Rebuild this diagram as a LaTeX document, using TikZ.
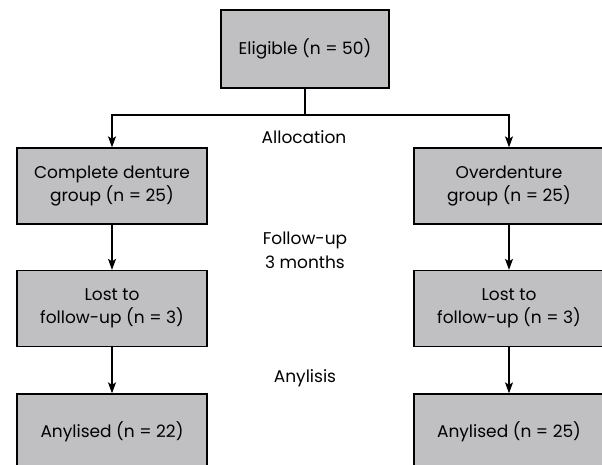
\documentclass[tikz,border=0pt]{standalone}
\usepackage{fontspec}
\setmainfont{Poppins}
\usepackage{tikz}
\usepackage{xcolor}
\usetikzlibrary{arrows.meta}
\definecolor{boxgray}{RGB}{192,192,194}
\tikzset{
    flow_box/.style={rectangle, draw=black, line width=1.3pt, fill=boxgray,
                     minimum width=190pt, minimum height=76pt, inner sep=0pt,
                     align=center, font=\fontsize{17}{23}\selectfont},
    top_box/.style={flow_box, minimum width=168pt, minimum height=78pt},
    stage_text/.style={align=center, font=\fontsize{17}{24}\selectfont},
    flow_arrow/.style={->, line width=1.2pt}
}

\begin{document}
\begin{tikzpicture}[x=1pt, y=1pt, >={Stealth[length=11pt, width=8pt, inset=2.5pt]}]
    \useasboundingbox (0,0) rectangle (602,-465);
    \node[top_box] (eligible) at (305, -49) {Eligible (n = 50)};
    \coordinate (split) at (305, -115);
    \node[stage_text] (allocation) at (304, -137) {Allocation};
    \node[flow_box] (complete) at (112, -186) {Complete denture\\group (n = 25)};
    \node[flow_box] (over) at (509, -186) {Overdenture\\group (n = 25)};
    \node[stage_text] (followup) at (305, -250) {Follow-up\\3 months};
    \node[flow_box] (lostcd) at (112, -308.5) {Lost to\\follow-up (n = 3)};
    \node[flow_box] (lostod) at (509, -308.5) {Lost to\\follow-up (n = 3)};
    \node[stage_text] (analysis) at (305, -378) {Anylisis};
    \node[flow_box] (anacd) at (112, -432) {Anylised (n = 22)};
    \node[flow_box] (anaod) at (509, -432) {Anylised (n = 25)};
    \draw[flow_arrow] (eligible.south) -- (split) -| (complete.north);
    \draw[flow_arrow] (split) -| (over.north);
    \draw[flow_arrow] (complete) -- (lostcd);
    \draw[flow_arrow] (over) -- (lostod);
    \draw[flow_arrow] (lostcd) -- (anacd);
    \draw[flow_arrow] (lostod) -- (anaod);
\end{tikzpicture}
\end{document}
